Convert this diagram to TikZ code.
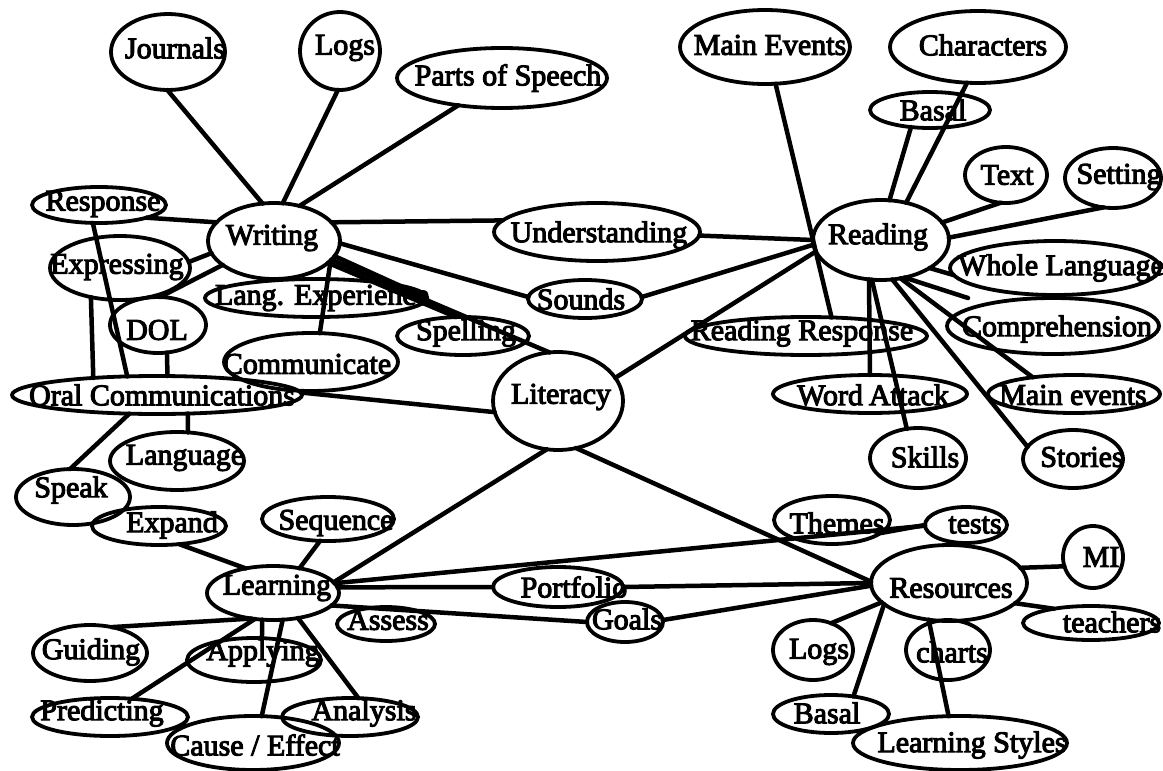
\documentclass[tikz,border=0pt]{standalone}
\usepackage{fontspec}
\usetikzlibrary{shapes.geometric}
\newfontfamily\mapfont{Liberation Serif}[FakeBold=3.5]

\tikzset{
  bubble/.style={ellipse, draw, line width=3.8pt, inner sep=0pt, outer sep=0pt},
  lbl/.style={font=\mapfont\fontsize{30}{32}\selectfont, inner sep=0pt},
  link/.style={line width=4.5pt, line cap=round},
}

% \bub{name}{cx}{cy}{rx}{ry}{text x}{text y}{text}
\newcommand\bub[8]{%
  \node[bubble, minimum width=#4*2pt, minimum height=#5*2pt] (#1) at (#2,#3) {};
  \node[lbl] (#1-t) at (#6,#7) {#8};}

\begin{document}
\begin{tikzpicture}[x=1pt,y=-1pt]
\fill[white] (0,0) rectangle (1163,771);
\useasboundingbox (0,0) rectangle (1163,771);

% ---------- bubbles ----------
\bub{journals}{168}{52}{57}{38}{175}{48}{Journals}
\bub{logsT}{340}{51}{40}{39}{345}{48}{Logs}
\bub{parts}{502}{78}{105}{30}{508}{78}{Parts of Speech}
\bub{mainEv}{765}{47}{85}{37}{770}{45}{Main Events}
\bub{chars}{978}{47}{88}{36}{983}{45}{Characters}
\bub{basalT}{930}{110}{60}{18}{933}{110}{Basal}
\bub{text}{1006}{175}{41}{28}{1007}{175}{Text}
\bub{setting}{1113}{178}{48}{30}{1119}{177}{Setting}
\bub{response}{99}{205}{67}{18}{103}{204}{Response}
\bub{writing}{274}{241}{66}{38}{272}{238}{Writing}
\bub{underst}{597}{232}{103}{29}{599}{235}{Understanding}
\bub{reading}{881}{240}{68}{40}{878}{237}{Reading}
\bub{express}{120}{268}{70}{32}{117}{267}{Expressing}
\bub{whole}{1055}{268}{105}{27}{1061}{268}{Whole Language}
\bub{langexp}{316}{298}{111}{19}{322}{298}{Lang. Experience}
\bub{sounds}{585}{299}{57}{19}{581}{299}{Sounds}
\bub{dol}{158}{325}{48}{28}{157}{330}{DOL}
\bub{spelling}{463}{336}{66}{19}{466}{333}{Spelling}
\bub{readresp}{806}{336}{121}{19}{802}{333}{Reading Response}
\bub{compr}{1053}{326}{106}{28}{1057}{329}{Comprehension}
\bub{commun}{311}{362}{87}{29}{307}{364}{Communicate}
\bub{oral}{157}{395}{145}{19}{162}{395}{Oral Communications}
\bub{literacy}{558}{401}{65}{49}{561}{397}{Literacy}
\bub{word}{870}{394}{97}{19}{873}{395}{Word\hspace{6pt}Attack}
\bub{mainev2}{1074}{394}{86}{19}{1073}{395}{Main events}
\bub{language}{177}{461}{67}{29}{185}{458}{Language}
\bub{skills}{918}{458}{48}{30}{925}{457}{Skills}
\bub{stories}{1073}{459}{50}{29}{1082}{457}{Stories}
\bub{speak}{73}{497}{57}{28}{71}{490}{Speak}
\bub{expand}{159}{526}{67}{19}{172}{525}{Expand}
\bub{sequence}{328}{519}{66}{22}{336}{523}{Sequence}
\bub{themes}{832}{520}{58}{24}{837}{523}{Themes}
\bub{tests}{966}{525}{41}{18}{975}{525}{tests}
\bub{mi}{1093}{557}{30}{31}{1101}{557}{MI}
\bub{learning}{273}{593}{66}{27}{277}{588}{Learning}
\bub{portfolio}{558}{587}{65}{20}{574}{587}{Portfolio}
\bub{resources}{949}{583}{78}{38}{951}{588}{Resources}
\bub{assess}{386}{624}{49}{17}{388}{620}{Assess}
\bub{goals}{625}{622}{38}{20}{627}{619}{Goals}
\bub{teachers}{1091}{623}{68}{17}{1112}{622}{teachers}
\bub{guiding}{90}{653}{57}{28}{91}{652}{Guiding}
\bub{applying}{254}{660}{67}{22}{263}{653}{Applying}
\bub{logsB}{813}{650}{40}{30}{819}{652}{Logs}
\bub{charts}{948}{650}{42}{30}{952}{652}{charts}
\bub{predicting}{110}{717}{78}{19}{102}{713}{Predicting}
\bub{analysis}{350}{717}{68}{19}{364}{713}{Analysis}
\bub{basalB}{831}{714}{58}{19}{827}{713}{Basal}
\bub{cause}{253}{743}{86}{27}{255}{745}{Cause / Effect}
\bub{lstyles}{960}{743}{107}{27}{972}{745}{Learning Styles}

\coordinate (gap) at (968,298);

% ---------- Writing ----------
\draw[link] (journals.-91) -- (writing.107);
\draw[link] (logsT.-93) -- (writing.77);
\draw[link] (parts.-148) -- (writing.54);
\draw[link] (response.-15) -- (writing.162);
\draw[link] (response.-109) -- (oral.148);
\draw[link] (writing.18) -- (underst.173);
\draw[link] (underst.-2) -- (reading.180);
\draw[link] (writing.-2) -- (sounds.178);
\draw[link] (sounds.2) -- (reading.-176);
\draw[link] (writing.191) -- (express.5);
\draw[link] (writing.-155) -- (dol.86);
\draw[link] (express.-135) -- (oral.165);
\draw[link] (dol.-72) -- (oral.61);
\draw[link] (writing.-19) -- (commun.73);
\draw[link] (writing.-14) -- (langexp.0);
\draw[link] (writing.-22) -- (spelling.110);
\draw[link] (writing.-18) -- (literacy.100);

% ---------- Oral communications ----------
\draw[link] (oral.1) -- (literacy.-170);
\draw[link] (oral.-146) -- (speak.96);
\draw[link] (oral.-31) -- (language.69);

% ---------- Reading ----------
\draw[link] (mainEv.-74) -- (readresp.36);
\draw[link] (basalT.-138) -- (reading.78);
\draw[link] (chars.-107) -- (reading.56);
\draw[link] (text.-101) -- (reading.16);
\draw[link] (setting.-108) -- (reading.2);
\draw[link] (reading.-30) -- (whole.184);
\draw[link] (reading.-58) -- (gap);
\draw[link] (reading.-63) -- (mainev2.158);
\draw[link] (reading.-74) -- (stories.165);
\draw[link] (reading.-103) -- (skills.111);
\draw[link] (reading.-107) -- (word.90);
\draw[link] (reading.-170) -- (literacy.22);

% ---------- Literacy ----------
\draw[link] (literacy.-103) -- (learning.10);
\draw[link] (literacy.-69) -- (resources.179);

% ---------- Learning ----------
\draw[link] (expand.-42) -- (learning.138);
\draw[link] (sequence.-110) -- (learning.43);
\draw[link] (learning.9) -- (tests.181);
\draw[link] (themes.-15) -- (tests.180);
\draw[link] (learning.5) -- (portfolio.180);
\draw[link] (portfolio.0) -- (resources.180);
\draw[link] (learning.-12) -- (goals.180);
\draw[link] (goals.3) -- (resources.182);
\draw[link] (learning.-130) -- (guiding.50);
\draw[link] (learning.-112) -- (applying.70);
\draw[link] (learning.-125) -- (predicting.40);
\draw[link] (learning.-70) -- (cause.72);
\draw[link] (learning.-45) -- (analysis.66);

% ---------- Resources ----------
\draw[link] (resources.12) -- (mi.198);
\draw[link] (resources.-17) -- (teachers.159);
\draw[link] (resources.196) -- (logsB.56);
\draw[link] (resources.198) -- (basalB.38);
\draw[link] (resources.-119) -- (lstyles.113);
\end{tikzpicture}
\end{document}
